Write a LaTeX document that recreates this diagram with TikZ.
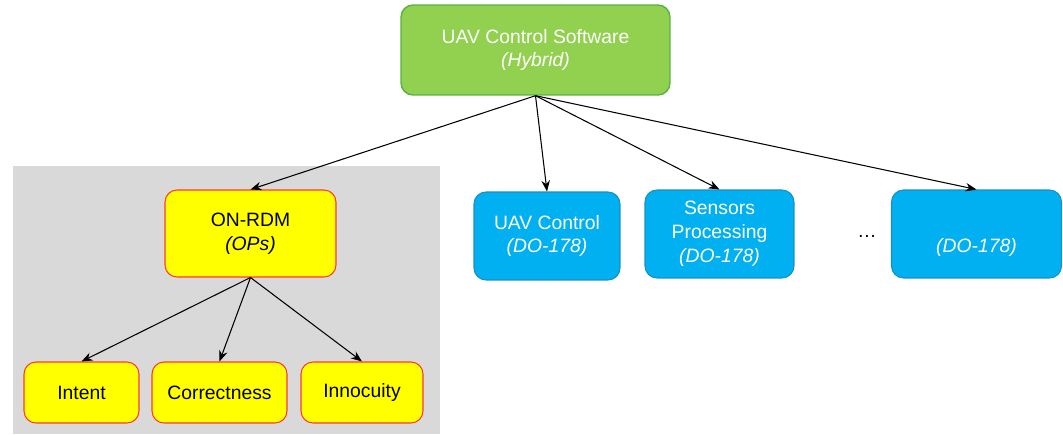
\documentclass[tikz,border=0pt]{standalone}
\usepackage{fontspec}
\setmainfont{Liberation Sans}
\usepackage{tikz}
\usepackage{xcolor}
\usetikzlibrary{
  positioning, arrows.meta, shapes.geometric, calc, fit, backgrounds,
}
\definecolor{cHybridFill}  {HTML}{92D050}
\definecolor{cHybridLine}  {HTML}{56B342}
\definecolor{cDoFill}      {HTML}{00B0F0}
\definecolor{cDoLine}      {HTML}{1A8FC4}
\definecolor{cOpsFill}     {HTML}{FFFF00}
\definecolor{cOpsLine}     {HTML}{FF3B2F}
\definecolor{cPanel}       {HTML}{D9D9D9}

\tikzset{
  box/.style     = {rounded corners=2.4mm, align=center, inner sep=0pt,
                    font=\fontsize{11}{13.6}\selectfont},
  hybridbox/.style = {box, fill=cHybridFill, draw=cHybridLine, line width=0.8pt, text=white},
  dobox/.style   = {box, fill=cDoFill, draw=cDoLine, line width=0.6pt, text=white},
  opsbox/.style  = {box, fill=cOpsFill, draw=cOpsLine, line width=0.6pt, text=black},
  link/.style    = {-{Stealth[length=2.2mm,width=1.7mm]}, line width=0.6pt, black},
}

\begin{document}
\begin{tikzpicture}[x=0.02cm, y=-0.02cm]
  \useasboundingbox (0,0) rectangle (1063,434);

  % grey panel behind the OPs part
  \fill[cPanel] (13,166) rectangle (440,434);

  \node[hybridbox, minimum width=5.38cm, minimum height=1.8cm] (sw) at (535.5,50)
    {UAV Control Software\\\textit{(Hybrid)}};

  \node[opsbox, minimum width=3.42cm, minimum height=1.74cm] (rdm) at (250.5,233.5)
    {ON-RDM\\\textit{(OPs)}};
  \node[dobox, minimum width=2.92cm, minimum height=1.76cm] (ctl) at (547,236)
    {UAV Control\\\textit{(DO-178)}};
  \node[dobox, minimum width=2.98cm, minimum height=1.76cm] (sens) at (719.5,234)
    {Sensors\\Processing\\\textit{(DO-178)}};
  \node[font=\fontsize{11}{13.6}\selectfont] (dots) at (867,236) {\dots};
  \node[dobox, minimum width=3.4cm, minimum height=1.76cm] (more) at (976.5,234)
    {\strut\\\textit{(DO-178)}};

  \node[opsbox, minimum width=2.3cm,  minimum height=1.22cm] (intent)  at (81.5,392.5)  {Intent};
  \node[opsbox, minimum width=2.7cm,  minimum height=1.22cm] (correct) at (219.5,392.5) {Correctness};
  \node[opsbox, minimum width=2.44cm, minimum height=1.22cm] (innoc)   at (362,392.5)   {Innocuity};

  \foreach \n in {rdm, ctl, sens, more}
    \draw[link] (sw.south) -- (\n.north);
  \foreach \n in {intent, correct, innoc}
    \draw[link] (rdm.south) -- (\n.north);
\end{tikzpicture}
\end{document}
